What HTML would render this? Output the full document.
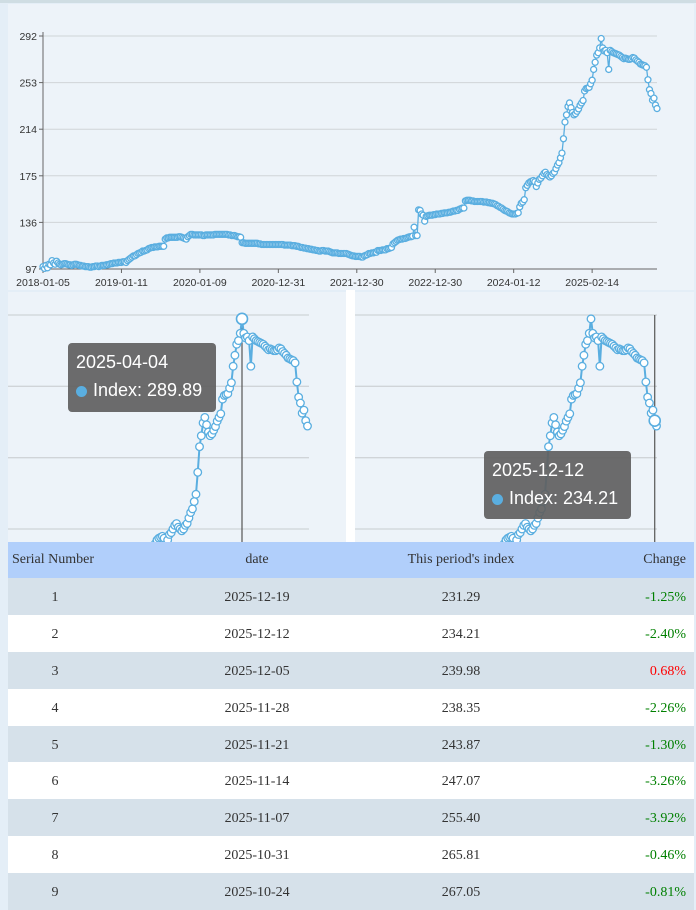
<!DOCTYPE html>
<html><head><meta charset="utf-8">
<style>
body{margin:0;width:696px;height:910px;background:#e4eef7;position:relative;overflow:hidden;font-family:"Liberation Sans",sans-serif;}
#top-line{position:absolute;left:0;top:0;width:696px;height:3px;background:#cfdde3;}
svg{position:absolute;left:0;top:0;}
table{position:absolute;left:8px;top:542px;width:686px;border-collapse:collapse;table-layout:fixed;font-family:"Liberation Serif",serif;font-size:14px;color:#333;}
th{background:#b1cffb;font-weight:normal;height:36px;padding:0 4px;white-space:nowrap;overflow:visible;}
td{height:36.9px;padding:3px 4px 0 4px;box-sizing:border-box;text-align:center;white-space:nowrap;}
tr.g td{background:#d6e1ea;}
tr.w td{background:#fff;}
.r{text-align:right;padding-right:8px;}
.tip{position:absolute;background:rgba(95,95,95,0.92);border-radius:4px;color:#fff;font-size:18px;line-height:28px;padding:5px 8px;box-sizing:border-box;}
.dot{display:inline-block;width:11px;height:11px;border-radius:50%;background:#5aaee0;margin-right:6px;vertical-align:-1px;}
</style></head><body>
<div id="top-line"></div>
<svg id="chart" width="696" height="910"></svg>
<div class="tip" style="left:68px;top:343px;width:148px;height:69px;">2025-04-04<br><span class="dot"></span>Index: 289.89</div>
<div class="tip" style="left:484px;top:451px;width:147px;height:68px;">2025-12-12<br><span class="dot"></span>Index: 234.21</div>
<table>
<colgroup><col style="width:94px"><col style="width:310px"><col style="width:98px"><col style="width:184px"></colgroup>
<tr><th style="text-align:left">Serial Number</th><th>date</th><th><span style="display:inline-block;width:160px;margin:0 -35px;text-align:center">This period's index</span></th><th class="r">Change</th></tr>
<tr class="g"><td>1</td><td>2025-12-19</td><td>231.29</td><td class="r" style="color:#008000">-1.25%</td></tr>
<tr class="w"><td>2</td><td>2025-12-12</td><td>234.21</td><td class="r" style="color:#008000">-2.40%</td></tr>
<tr class="g"><td>3</td><td>2025-12-05</td><td>239.98</td><td class="r" style="color:#ff0000">0.68%</td></tr>
<tr class="w"><td>4</td><td>2025-11-28</td><td>238.35</td><td class="r" style="color:#008000">-2.26%</td></tr>
<tr class="g"><td>5</td><td>2025-11-21</td><td>243.87</td><td class="r" style="color:#008000">-1.30%</td></tr>
<tr class="w"><td>6</td><td>2025-11-14</td><td>247.07</td><td class="r" style="color:#008000">-3.26%</td></tr>
<tr class="g"><td>7</td><td>2025-11-07</td><td>255.40</td><td class="r" style="color:#008000">-3.92%</td></tr>
<tr class="w"><td>8</td><td>2025-10-31</td><td>265.81</td><td class="r" style="color:#008000">-0.46%</td></tr>
<tr class="g"><td>9</td><td>2025-10-24</td><td>267.05</td><td class="r" style="color:#008000">-0.81%</td></tr>
</table>
<script>
const values=[99,97.5,100,98,101,100.5,104,102,101,103.5,
102,101,100.5,101,101.5,101.5,101,100.5,100.5,100,
100.5,101,101,100.5,100,100,99.5,99.5,99,99,
99,98.5,98.5,99,99,99.5,99.5,99,99.5,100,
100,100,100.5,100.5,101,101.5,101.5,102,102,102,
102.5,102.5,102.5,103,103,102.5,104,105,106,107,
108,108,109,110,110.5,111,112,112,112.5,113,
114,114.5,115,115,115.5,115.5,115.5,116,116,116,
116,122,123,123,123.5,123.5,123.5,123.5,123.5,123.5,
124,124,123.5,123,122.5,122,124,125,126,126,
125.5,125.5,125.5,125.5,125.5,125.5,125,125,125.5,125.5,
125.5,125.5,125.5,125.5,126,126,126,126,126,126,
126,126,126,125.5,125.5,125,125,125,124.5,124,
124,123.5,119,119,118.5,118.5,118.5,118.5,118.5,118.5,
118.5,118.5,118.5,118,118,117.5,117.5,117.5,117.5,117.5,
117.5,117.5,117.5,117.5,117.5,117.5,117.5,117.5,117.5,117.5,
117,117,117,117,117,116.5,116.5,116.5,116,116,
115.5,115,115,114.5,114.5,114,114,113.5,113.5,113,
113,112.5,112.5,112,112,112.5,112.5,112,112,112,
111.5,111,110.5,110.5,110.5,110.5,110,110,110,110,
110,110,109.5,109,108.5,108,108,107.5,107.5,107.5,
107.5,107,107,108,108.5,109,110,110,110.5,110.5,
111,111,112.5,112.5,112.5,113,113,113,114,114,
114.5,115,118,119,120,121,121.5,122,122,122.5,
122.5,123,123.5,124,124,124.5,132,125,125,146.5,
146,143,142,137,141,141.5,142,142,142,142.5,
142.5,143,143,143,143.5,143.5,144,144,144,144.5,
144.5,145,145.5,145.5,146,146,147,147.5,148,148,
154,154.5,154.5,154.5,154,154,153.5,153.5,153.5,153.5,
153.5,153.5,153,153,153,152.5,152.5,152,152,151.5,
151,150,149.5,148.5,148,147,146,145.5,145,144,
143.5,143,143,143,143.5,144,149,152,153,155,
165,167,169,170,170.5,171,170,166,169,172,
173,175,177,178,176,175,174,175,177,178,
181,184,186,190,194,206,220,226,233,236,
232,228,226,227,229,231,234,236,238,246,
248,248.5,249,252,255,264,270,276,278,282,
289.89,282,279.5,280,278,264,280,279,278,277.5,
277,276.5,276,275,274,273,273.5,273,272.5,272.5,
273,274,273.5,272,271,270,268.5,268,267.5,
267.05,265.81,255.40,247.07,243.87,238.35,239.98,234.21,231.29];
const yTicks=[97,136,175,214,253,292];
const xTickLabels=["2018-01-05","2019-01-11","2020-01-09","2020-12-31","2021-12-30","2022-12-30","2024-01-12","2025-02-14"];
const xTickEvery=52;
const peakIndex=370;
const hoverIndex=406;

const NS="http://www.w3.org/2000/svg";
const svg=document.getElementById('chart');
function mk(tag,attrs,parent){const e=document.createElementNS(NS,tag);for(const k in attrs)e.setAttribute(k,attrs[k]);(parent||svg).appendChild(e);return e;}
const n=values.length;
let r=mk('rect',{x:8,y:4,width:686,height:286,fill:'#edf3f9'});


r=mk('rect',{x:8,y:292,width:338,height:250,fill:'#edf3f9'});


r=mk('rect',{x:346,y:290,width:9,height:252,fill:'#ffffff'});


r=mk('rect',{x:355,y:292,width:339,height:250,fill:'#edf3f9'});



const X0=43,X1=657,Y0=269,Y1=36;
const xs=i=>X0+i*(X1-X0)/(n-1);
const ys=v=>Y0-(v-yTicks[0])*(Y0-Y1)/(yTicks[yTicks.length-1]-yTicks[0]);
const main=mk('g',{});


yTicks.forEach(t=>{
  const y=ys(t);
  if(t!==yTicks[0]){const g=mk('line',{x1:X0,x2:X1,y1:y,y2:y,stroke:'#d0d4d8','stroke-width':1},main);
  
  }
  mk('line',{x1:X0-4,x2:X0,y1:y,y2:y,stroke:'#666'},main);
  const tx=mk('text',{x:X0-6,y:y+4,'text-anchor':'end','font-size':10.5,fill:'#333'},main);
  tx.textContent=t;
  
  
});
let ax=mk('line',{x1:X0,x2:X0,y1:Y1-4,y2:Y0,stroke:'#666'},main);


ax=mk('line',{x1:X0,x2:X1,y1:Y0,y2:Y0,stroke:'#666'},main);


xTickLabels.forEach((l,k)=>{
  const x=xs(k*xTickEvery);
  mk('line',{x1:x,x2:x,y1:Y0,y2:Y0+4,stroke:'#666'},main);
  const tx=mk('text',{x:x,y:Y0+17,'text-anchor':'middle','font-size':10.5,fill:'#333'},main);
  tx.textContent=l;
  
  
});
function series(parent,fx,fy,rad,sw){
  const pts=values.map((v,i)=>fx(i).toFixed(2)+','+fy(v).toFixed(2)).join(' ');
  const pl=mk('polyline',{points:pts,fill:'none',stroke:'#5aaee0','stroke-width':sw},parent);
  
  
  values.forEach((v,i)=>{
    const c=mk('circle',{cx:fx(i),cy:fy(v),r:rad,fill:'#fff',stroke:'#5aaee0','stroke-width':1.3},parent);
    
    
  });
}
series(main,xs,ys,3,1.3);

const defs=mk('defs',{});
mk('rect',{x:8,y:292,width:338,height:250},mk('clipPath',{id:'cl'},defs));
mk('rect',{x:355,y:292,width:339,height:250},mk('clipPath',{id:'cr'},defs));
const ZX=1.77, ZY=(529-315)/(yTicks[5]-yTicks[2]);
const zy=v=>315+(yTicks[5]-v)*ZY;
function panel(clip,xPeak,gx0,gx1,crossIdx,name){
  const g=mk('g',{'clip-path':'url(#'+clip+')'});
  
  
  const zx=i=>xPeak+(i-peakIndex)*ZX;
  yTicks.slice(1).forEach(t=>{
    const l=mk('line',{x1:gx0,x2:gx1,y1:zy(t),y2:zy(t),stroke:'#d0d4d8','stroke-width':1.3},g);
    
    
  });
  const cx=zx(crossIdx);
  const ch=mk('line',{x1:cx,x2:cx,y1:315,y2:545,stroke:'#555','stroke-width':1.2},g);
  
  
  series(g,zx,zy,3.8,2);
  const hc=mk('circle',{cx:cx,cy:zy(values[crossIdx]),r:5.5,fill:'#fff',stroke:'#5aaee0','stroke-width':1.6},g);
  
  
}
panel('cl',242,8,309,peakIndex,'zoom-left-chart');
panel('cr',591,355,657,hoverIndex,'zoom-right-chart');
</script>
</body></html>
